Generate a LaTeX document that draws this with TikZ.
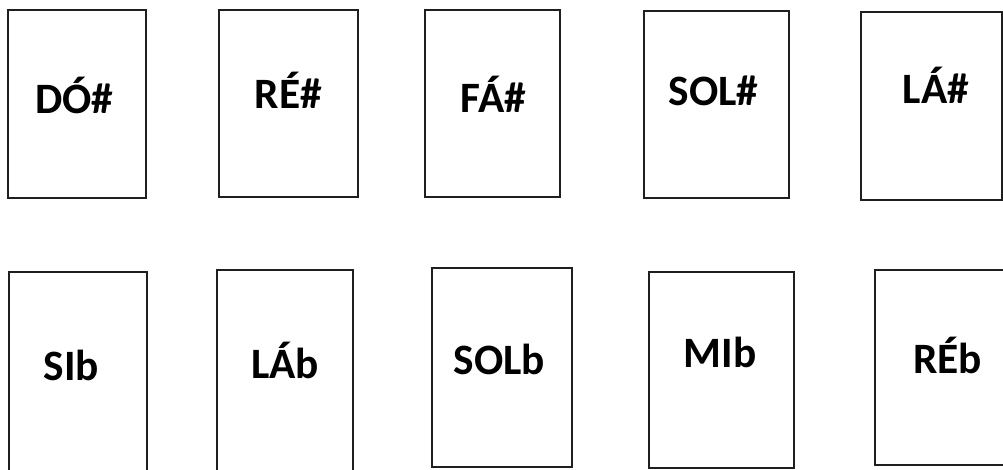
\documentclass[tikz,border=0pt]{standalone}
\usepackage{fontspec}
\setmainfont{Carlito}
\begin{document}
\begin{tikzpicture}[x=0.75pt,y=-0.75pt,
  card/.style 2 args={draw=black!88, line width=1.7pt, fill=none, inner sep=0pt, outer sep=0pt,
    minimum width=#1*0.75pt, minimum height=#2*0.75pt},
  lbl/.style={font=\fontsize{32.5}{38}\selectfont\bfseries, anchor=base, inner sep=0pt, text=black}]
\useasboundingbox (0,0) rectangle (1003,469);
\clip (0,0) rectangle (1003,469);
\fill[white] (0,0) rectangle (1003,469);
% top row
\node[card={138}{188}] (b1) at (77,104) {};
\node[card={139}{187}] (b2) at (288.5,103.5) {};
\node[card={135}{187}] (b3) at (492.5,103.5) {};
\node[card={145}{187}] (b4) at (716.5,104.5) {};
\node[card={141}{188}] (b5) at (931.5,106) {};
% bottom row
\node[card={138}{203}] (b6) at (78,373.5) {};
\node[card={136}{205}] (b7) at (285,372.5) {};
\node[card={140}{199}] (b8) at (502,367.5) {};
\node[card={145}{196}] (b9) at (721.5,370) {};
\node[card={135}{195}] (b10) at (942.5,367.5) {};
% labels
\node[lbl] (t1) at (74.5,113) {DÓ\#};
\node[lbl] (t2) at (288.5,108) {RÉ\#};
\node[lbl] (t3) at (493.5,112) {FÁ\#};
\node[lbl] (t4) at (713.5,105) {SOL\#};
\node[lbl] (t5) at (936,103) {LÁ\#};
\node[lbl] (t6) at (71.5,380) {SIb};
\node[lbl] (t7) at (285,378) {LÁb};
\node[lbl] (t8) at (499.5,374) {SOLb};
\node[lbl] (t9) at (720,367) {MIb};
\node[lbl] (t10) at (947.5,373) {RÉb};
\end{tikzpicture}
\end{document}
